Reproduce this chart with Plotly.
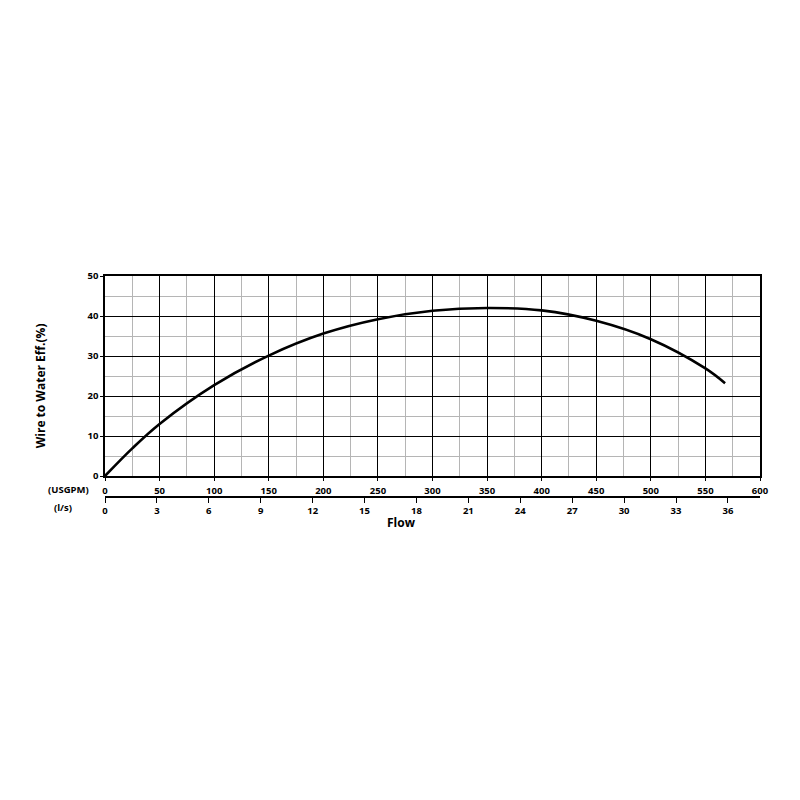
import plotly.graph_objects as go

# pump curve
flow_usgpm = [0, 25, 50, 100, 150, 200, 250, 300, 350, 400, 450, 500, 550, 568]
wire_to_water_eff = [0, 6.9, 13.0, 22.7, 30.1, 35.6, 39.2, 41.3, 42.0, 41.4, 38.8, 34.2, 26.9, 23.2]

usgpm_per_ls = 15.85
x_max = 600

font_bold = dict(family='Open Sans', size=9.5, color='black', weight='bold')

fig = go.Figure()
fig.add_trace(go.Scatter(
    x=flow_usgpm,
    y=wire_to_water_eff,
    mode='lines',
    line=dict(color='black', width=2.6, shape='spline'),
    showlegend=False))

# invisible trace to bring up the l/s axis
fig.add_trace(go.Scatter(x=[0], y=[0], xaxis='x2', mode='markers',
                         marker=dict(opacity=0), showlegend=False, hoverinfo='skip'))

fig.update_layout(
    width=800, height=800,
    plot_bgcolor='white',
    paper_bgcolor='white',
    margin=dict(l=97, r=48, t=268, b=298),
    xaxis=dict(range=[0, x_max], dtick=50, showgrid=True, gridcolor='black', gridwidth=1.2,
               minor=dict(dtick=25, showgrid=True, gridcolor='#b5b5b5', gridwidth=1.2),
               showline=True, linecolor='black', linewidth=1.5, mirror=True,
               ticks='outside', ticklen=3, tickcolor='black', zeroline=False,
               ticklabelstandoff=2, tickfont=font_bold),
    yaxis=dict(range=[0, 50], dtick=10, domain=[0.1453, 1], showgrid=True, gridcolor='black',
               gridwidth=1.2,
               minor=dict(dtick=5, showgrid=True, gridcolor='#b5b5b5', gridwidth=1.2),
               showline=True, linecolor='black', linewidth=1.5, mirror=True,
               ticks='outside', ticklen=3, tickcolor='black', zeroline=False,
               tickfont=font_bold),
    xaxis2=dict(range=[0, x_max / usgpm_per_ls], dtick=3, overlaying='x', anchor='free',
                position=0.0556, side='bottom', showgrid=False, zeroline=False,
                showline=True, linecolor='black', linewidth=1.5,
                ticks='outside', ticklen=5, tickcolor='black', tickfont=font_bold),
)

fig.add_annotation(text='(USGPM)', xref='paper', yref='paper', x=-0.0218, y=0.0855,
                   showarrow=False, xanchor='right', yanchor='middle', font=font_bold)
fig.add_annotation(text='(l/s)', xref='paper', yref='paper', x=-0.0473, y=0.0098,
                   showarrow=False, xanchor='right', yanchor='middle', font=font_bold)
fig.add_annotation(text='Flow', xref='paper', yref='paper', x=0.452, y=-0.053,
                   showarrow=False, xanchor='center', yanchor='middle',
                   font=dict(family='Open Sans', size=12, color='black', weight='bold'))
fig.add_annotation(text='Wire to Water Eff.(%)', xref='paper', yref='paper', x=-0.098, y=0.532,
                   showarrow=False, textangle=-90, xanchor='center', yanchor='middle',
                   font=dict(family='Open Sans', size=12, color='black', weight='bold'))

fig.write_html('out.html')
